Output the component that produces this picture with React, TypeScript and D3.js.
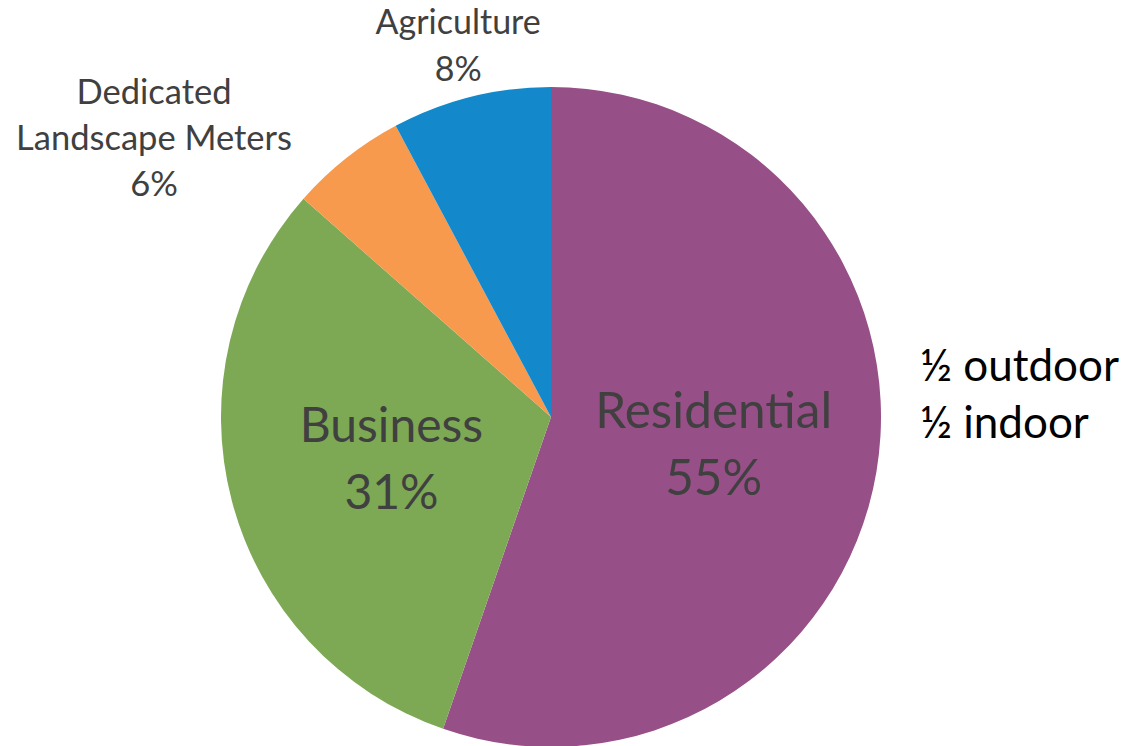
import React from "react";
import * as d3 from "d3";

const categories = ["Residential", "Business", "Dedicated Landscape Meters", "Agriculture"];
const values = [55.3, 31.2, 5.7, 7.8];
const percentLabels = ["55%", "31%", "6%", "8%"];
const labelLines = [["Residential"], ["Business"], ["Dedicated", "Landscape Meters"], ["Agriculture"]];
const colors = ["#974F87", "#7DA854", "#F79A4E", "#1389CB"];
const noteLines = ["½ outdoor", "½ indoor"];

const W = 1126;
const H = 746;
const CX = 551;
const CY = 417;
const R = 330;
const FONT = "Lato, 'Open Sans', sans-serif";

export default function App() {
  const pie = d3
    .pie<number>()
    .sort(null)
    .value((d) => d)(values);
  const arc = d3.arc<d3.PieArcDatum<number>>().innerRadius(0).outerRadius(R);
  const midArc = d3.arc<d3.PieArcDatum<number>>().innerRadius(R * 0.5).outerRadius(R * 0.5);

  // label layout: inside (big) or outside (small)
  const layout = [
    { big: true },
    { big: true },
    { big: false, dx: -397, dy: -279 },
    { big: false, r: 1.16 },
  ];

  return (
    <svg
      width={W}
      height={H}
      style={{ position: "absolute", left: 0, top: 0, background: "#fff" }}
      fontFamily={FONT}
    >
      <g transform={`translate(${CX},${CY})`}>
        {pie.map((p, i) => (
          <path key={categories[i]} d={arc(p) || ""} fill={colors[i]} />
        ))}
        {pie.map((p, i) => {
          const L = layout[i];
          const lines = [...labelLines[i], percentLabels[i]];
          let x: number, y: number, fs: number, lh: number;
          if (L.big) {
            [x, y] = midArc.centroid(p);
            fs = i === 0 ? 49.5 : 48;
            lh = 67;
          } else if (L.r) {
            const a = (p.startAngle + p.endAngle) / 2;
            x = Math.sin(a) * R * L.r;
            y = -Math.cos(a) * R * L.r;
            fs = 34;
            lh = 47;
          } else {
            x = L.dx as number;
            y = L.dy as number;
            fs = 34.5;
            lh = 46;
          }
          const n = lines.length;
          return (
            <text key={"l" + i} textAnchor="middle" fill="#404040" fontSize={fs}>
              {lines.map((t, j) => (
                <tspan key={j} x={x} y={y + (j - (n - 1) / 2) * lh + fs * 0.35}>
                  {t}
                </tspan>
              ))}
            </text>
          );
        })}
      </g>
      <text fill="#000" fontSize={44} fontFamily={FONT}>
        {noteLines.map((t, j) => (
          <tspan key={j} x={920} y={381 + j * 57}>
            {t}
          </tspan>
        ))}
      </text>
    </svg>
  );
}
